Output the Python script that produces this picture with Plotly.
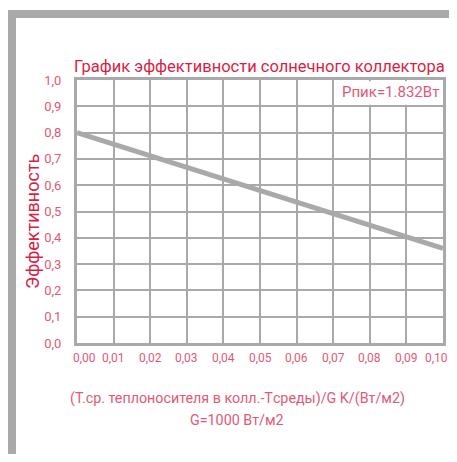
import plotly.graph_objects as go

# Data
x_vals = [0.00, 0.05, 0.10]
eff_vals = [0.80, 0.58, 0.36]
x_ticks = [0.00, 0.01, 0.02, 0.03, 0.04, 0.05, 0.06, 0.07, 0.08, 0.09, 0.10]
x_tick_labels = ["0,00", "0,01", "0,02", "0,03", "0,04", "0,05", "0,06", "0,07", "0,08", "0,09", "0,10"]
y_ticks = [0.0, 0.1, 0.2, 0.3, 0.4, 0.5, 0.6, 0.7, 0.8, 0.9, 1.0]
title_text = "График эффективности солнечного коллектора"
y_title = "Эффективность"
x_title1 = "(T.ср. теплоносителя в колл.-Tсреды)/G K/(Вт/м2)"
x_title2 = "G=1000 Вт/м2"
peak_text = "Pпик=1.832Вт"

# page has an 8px body margin; figure drawn from (8, 8)
OFF = 8
PAGE_W, PAGE_H = 457, 462
W, H = PAGE_W - OFF, PAGE_H - 2 * OFF
# plot area in page pixels: x 77..443, y 80..343
L = 77 - OFF
T = 80 - OFF
R = W - (443 - OFF)
B = H - (343 - OFF)
PW, PH = W - L - R, H - T - B

def px(x):  # page pixel -> paper
    return (x - OFF - L) / PW

def py(y):
    return (H - B - (y - OFF)) / PH

RED = "#d71f45"
PINK = "#e05a76"
GRAY = "#a9a9a9"
FONT = "Roboto"

fig = go.Figure()
fig.add_trace(go.Scatter(x=x_vals, y=eff_vals, mode="lines",
                         line=dict(color=GRAY, width=5), hoverinfo="skip",
                         cliponaxis=False))

shapes = [
    # outer frame
    dict(type="rect", xref="paper", yref="paper", x0=px(8), x1=px(16), y0=py(PAGE_H + 2), y1=py(10),
         fillcolor=GRAY, line=dict(width=0), layer="above"),
    dict(type="rect", xref="paper", yref="paper", x0=px(8), x1=px(PAGE_W + 2), y0=py(18), y1=py(10),
         fillcolor=GRAY, line=dict(width=0), layer="above"),
    # white box behind peak label
    dict(type="rect", xref="x", yref="y", x0=0.0706, x1=0.0995, y0=0.906, y1=0.995,
         fillcolor="white", line=dict(width=0), layer="between"),
]

annotations = [
    dict(text=title_text, xref="paper", yref="paper", x=px(72), y=py(66), xanchor="left",
         yanchor="middle", showarrow=False, font=dict(family=FONT, size=16.5, color=RED)),
    dict(text=y_title, xref="paper", yref="paper", x=px(32), y=py(222), textangle=-90,
         xanchor="center", yanchor="middle", showarrow=False,
         font=dict(family=FONT, size=18, color=RED)),
    dict(text=x_title1, xref="paper", yref="paper", x=px(237), y=py(398), xanchor="center",
         yanchor="middle", showarrow=False, font=dict(family=FONT, size=14.3, color=PINK)),
    dict(text=x_title2, xref="paper", yref="paper", x=px(237), y=py(420), xanchor="center",
         yanchor="middle", showarrow=False, font=dict(family=FONT, size=14.3, color=PINK)),
    dict(text=peak_text, xref="paper", yref="paper", x=px(441), y=py(92), xanchor="right",
         yanchor="middle", showarrow=False, font=dict(family=FONT, size=15, color=PINK)),
]
# x tick labels as annotations (first one sits right of its gridline; last kept inside the view)
n = len(x_ticks)
for i, (tv, tl) in enumerate(zip(x_ticks, x_tick_labels)):
    shift = 7 if i == 0 else (-7 if i == n - 1 else 0)
    annotations.append(dict(text=tl, xref="x", yref="paper", x=tv, y=py(358),
                            xanchor="center", yanchor="middle", showarrow=False,
                            xshift=shift,
                            font=dict(family=FONT, size=12, color=PINK)))

fig.update_layout(
    width=W, height=H,
    margin=dict(l=L, r=R, t=T, b=B, pad=0, autoexpand=False),
    paper_bgcolor="white", plot_bgcolor="white",
    separators=", ",
    showlegend=False,
    shapes=shapes,
    annotations=annotations,
    font=dict(family=FONT),
)
fig.update_xaxes(range=[0, 0.1], tickvals=x_ticks, showticklabels=False, automargin=False,
                 showgrid=True, gridcolor=GRAY, gridwidth=2,
                 showline=True, linecolor=GRAY, linewidth=3, mirror=True,
                 zeroline=False, ticks="", fixedrange=True)
fig.update_yaxes(range=[0, 1], tickvals=y_ticks, tickformat=".1f", automargin=False,
                 showgrid=True, gridcolor=GRAY, gridwidth=2,
                 showline=True, linecolor=GRAY, linewidth=3, mirror=True,
                 zeroline=False, ticks="", ticklabelstandoff=10,
                 tickfont=dict(family=FONT, size=13, color=PINK), fixedrange=True)

fig.write_html("out.html", config={"displayModeBar": False})
